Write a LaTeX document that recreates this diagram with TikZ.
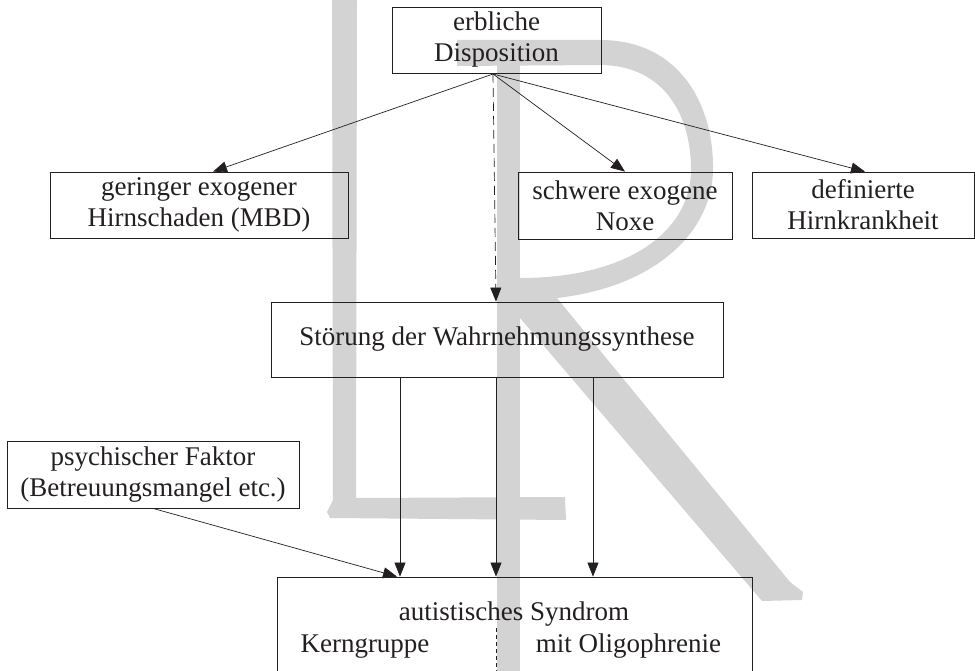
\documentclass[tikz,border=0pt]{standalone}
\usepackage{fontspec}
\setmainfont{Liberation Serif}
\usetikzlibrary{arrows.meta}
\definecolor{wm}{RGB}{211,211,211}
\definecolor{ink}{RGB}{35,31,32}
\begin{document}
\begin{tikzpicture}[x=1pt,y=-1pt,
  box/.style={draw=ink, line width=0.8pt, align=center, inner sep=0pt, font=\fontsize{27}{31}\selectfont, text=ink},
  lbl/.style={inner sep=0pt, font=\fontsize{27}{31}\selectfont, text=ink},
  arr/.style={draw=ink, line width=0.7pt, -{Triangle[length=14pt,width=11pt]}},
  dasharr/.style={arr, dash pattern=on 9pt off 5pt},
  splitline/.style={draw=ink, line width=0.6pt, dash pattern=on 4pt off 3pt},
  ]
\useasboundingbox (0,0) rectangle (975,671);
\clip (0,0) rectangle (975,671);
% watermark
\fill[wm] (332,0) -- (357,0) -- (356,498) -- (565,497) -- (566,520) -- (330,518) -- (327,512) -- (333,500) -- cycle;
\fill[wm] (497,40) rectangle (520,671);
\fill[wm] (457,40) -- (600,40) .. controls (680,40) and (714,105) .. (713,170)
  .. controls (712,240) and (640,300) .. (520,300) -- (520,278)
  .. controls (630,278) and (691,230) .. (691,170)
  .. controls (691,110) and (660,65) .. (600,65) -- (457,66) -- cycle;
\fill[wm] (520,296) -- (552,292) -- (790,582) -- (803,592) -- (802,600) -- (762,601) -- (520,318) -- cycle;
% nodes
\node[box, minimum width=209pt, minimum height=66pt] (disp) at (496.5,40) {erbliche\\Disposition};
\node[box, minimum width=298pt, minimum height=66pt] (ger) at (199,205) {geringer exogener\\Hirnschaden (MBD)};
\node[box, minimum width=214pt, minimum height=67pt] (schw) at (625,205.5) {schwere exogene\\Noxe};
\node[box, minimum width=222pt, minimum height=66pt] (def) at (863,205) {definierte\\Hirnkrankheit};
\node[box, minimum width=452pt, minimum height=75pt] (stor) at (497,339.5) {Störung der Wahrnehmungssynthese};
\node[box, minimum width=292pt, minimum height=67pt] (psy) at (153,474.5) {psychischer Faktor\\(Betreuungsmangel etc.)};
\node[box, minimum width=475pt, minimum height=140pt] (aut) at (514.5,647) {};
\node[lbl, anchor=base] (autt) at (514,620) {autistisches Syndrom};
\node[lbl, anchor=base] (kern) at (365,652) {Kerngruppe};
\node[lbl, anchor=base] (olig) at (628.5,652) {mit Oligophrenie};
% coordinates
\coordinate (src) at (493,74);
\coordinate (x1) at (400,0);
\coordinate (x2) at (496,0);
\coordinate (x3) at (593,0);
\coordinate (x0) at (397,0);
\coordinate (dv) at (496,628);
% connectors
\draw[arr] (src) -- ([xshift=14pt]ger.north);
\draw[arr] (src) -- (schw.north);
\draw[arr] (src) -- ([xshift=2pt]def.north);
\draw[dasharr] (src) -- ([xshift=-1pt]stor.north);
\draw[arr] (stor.south -| x1) -- (aut.north -| x1);
\draw[arr] (stor.south -| x2) -- (aut.north -| x2);
\draw[arr] (stor.south -| x3) -- (aut.north -| x3);
\draw[arr] (psy.south) -- (aut.north -| x0);
\draw[splitline] (dv) -- (dv |- aut.south);
\end{tikzpicture}
\end{document}
